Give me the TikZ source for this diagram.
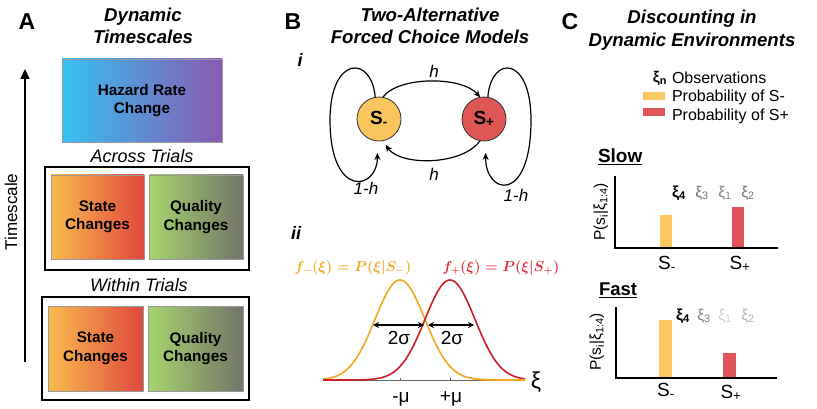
\documentclass[tikz,border=0pt]{standalone}
\usepackage[no-math]{fontspec}
\setmainfont{Liberation Sans}
\usetikzlibrary{arrows.meta}
\definecolor{hzA}{HTML}{35C0F2}
\definecolor{hzB}{HTML}{8B59B2}
\definecolor{stA}{HTML}{F9BC4D}
\definecolor{stB}{HTML}{E0483E}
\definecolor{quA}{HTML}{A6D46E}
\definecolor{quB}{HTML}{737468}
\definecolor{smfill}{HTML}{F9C55F}
\definecolor{spfill}{HTML}{DE5656}
\definecolor{baryel}{HTML}{FBC862}
\definecolor{barred}{HTML}{DE5458}
\definecolor{curveor}{HTML}{F2A71E}
\definecolor{curvered}{HTML}{CF1F26}
\definecolor{txtor}{HTML}{F5A623}
\definecolor{txtred}{HTML}{E0303A}
\newcommand\fminus{{\boldmath$f_{-}(\xi)=P(\xi\vert S_{-})$}}
\newcommand\fplus{{\boldmath$f_{+}(\xi)=P(\xi\vert S_{+})$}}
\begin{document}
\begin{tikzpicture}[x=1pt,y=-1pt,
  every node/.style={inner sep=0pt, outer sep=0pt},
  ttl/.style={font=\fontsize{18.6}{22.5}\selectfont\bfseries\itshape, align=center},
  lett/.style={font=\fontsize{23}{23}\selectfont\bfseries},
  subttl/.style={font=\fontsize{18}{18}\selectfont\itshape},
  gbox/.style={draw=black!40, line width=0.6pt, font=\fontsize{15.3}{18.5}\selectfont\bfseries, align=center},
  obox/.style={draw=black, line width=1.4pt},
  arr/.style={line width=1.2pt, -{Stealth[length=7pt,width=6pt]}},
  state/.style={circle, draw=black!80, line width=0.8pt, minimum size=44pt, font=\fontsize{19}{19}\selectfont\bfseries},
  lbl/.style={font=\fontsize{17}{17}\selectfont\itshape},
  plain/.style={font=\fontsize{17}{17}\selectfont},
  big/.style={font=\fontsize{19}{19}\selectfont},
  legtxt/.style={font=\fontsize{16}{16}\selectfont, anchor=west},
  xil/.style={font=\fontsize{15.5}{15.5}\selectfont},
  axis/.style={line width=1.8pt},
  ylab/.style={rotate=90, font=\fontsize{15.5}{15.5}\selectfont}
]
\useasboundingbox (0,0) rectangle (817,409);

% ---------------- Panel A ----------------
\node[lett] (la) at (27,22) {A};
\node[ttl] (ta) at (143,26) {Dynamic\\Timescales};
\coordinate (tsb) at (25,362);
\coordinate (tst) at (25,69);
\draw[line width=1.6pt, -{Triangle[length=10pt,width=9pt]}] (tsb) -- (tst);
\node[rotate=90, font=\fontsize{17}{17}\selectfont] (tsl) at (11,212) {Timescale};

\node[gbox, left color=hzA, right color=hzB, minimum width=160pt, minimum height=83pt] (hz) at (142,100.5) {Hazard Rate\\Change};

\node[subttl] (across) at (142,156) {Across Trials};
\node[obox, minimum width=204pt, minimum height=103pt] (abox) at (147,218.5) {};
\node[gbox, left color=stA, right color=stB, minimum width=93pt, minimum height=84pt] (ast) at (97.5,217) {State\\Changes};
\node[gbox, left color=quA, right color=quB, minimum width=94pt, minimum height=84pt] (aqu) at (196,217) {Quality\\Changes};

\node[subttl] (within) at (139,285) {Within Trials};
\node[obox, minimum width=207pt, minimum height=103pt] (wbox) at (145.5,348.5) {};
\node[gbox, left color=stA, right color=stB, minimum width=95pt, minimum height=85pt] (wst) at (95.5,348.5) {State\\Changes};
\node[gbox, left color=quA, right color=quB, minimum width=95pt, minimum height=85pt] (wqu) at (195.5,348.5) {Quality\\Changes};

% ---------------- Panel B ----------------
\node[lett] (lb) at (293,22) {B};
\node[ttl] (tb) at (430,26) {Two-Alternative\\Forced Choice Models};
\node[font=\fontsize{18}{18}\selectfont\bfseries\itshape] (li) at (300,60) {i};

\node[state, fill=smfill] (Sm) at (379,119) {S\textsubscript{-}};
\node[state, fill=spfill] (Sp) at (484,119) {S\textsubscript{+}};

\draw[arr] (Sm.80) .. controls (398,76) and (462,76) .. (Sp.100);
\draw[arr, shorten >=5pt] (Sp.-100) .. controls (462,166) and (400,166) .. (Sm.-80);
\node[lbl] (h1) at (434,71) {h};
\node[lbl] (h2) at (434,174) {h};

\draw[arr, shorten >=12pt] (Sm.100) .. controls (372,55) and (330,55) .. (330,120)
   .. controls (330,200) and (378,190) .. (Sm.-95);
\draw[arr, shorten >=12pt] (Sp.80) .. controls (491,55) and (531,55) .. (531,120)
   .. controls (531,205) and (485,195) .. (Sp.-85);
\node[lbl] (l1) at (366,188) {1-h};
\node[lbl] (l2) at (516,195) {1-h};

% ii
\node[font=\fontsize{18}{18}\selectfont\bfseries\itshape] (lii) at (296,233) {ii};
\node[text=txtor, font=\fontsize{14.5}{14.5}\selectfont] (fm) at (353,268) {\fminus};
\node[text=txtred, font=\fontsize{14.5}{14.5}\selectfont] (fp) at (501,268) {\fplus};

\coordinate (ax0) at (323,380);
\coordinate (ax1) at (525,380);
\draw[black!60, line width=1pt] (ax0) -- (ax1);
\draw[black!60, line width=1pt] (400,378) -- (400,381) (450,378) -- (450,381);
\draw[curveor, line width=1.6pt] plot[domain=323:525, samples=120, smooth] (\x, {380-100*exp(-0.5*((\x-400)/25)^2)});
\draw[curvered, line width=1.6pt] plot[domain=323:525, samples=120, smooth] (\x, {380-100*exp(-0.5*((\x-450)/25)^2)});
\draw[curveor, line width=1.6pt] plot[domain=470:525, samples=40, smooth] (\x, {380-100*exp(-0.5*((\x-400)/25)^2)});
\node[font=\fontsize{23}{23}\selectfont] (xi) at (536,382) {ξ};
\node[big] (mm) at (401,399) {-μ};
\node[big] (mp) at (451,399) {+μ};

\coordinate (s1a) at (373,325);
\coordinate (s1b) at (424,325);
\coordinate (s2a) at (428,325);
\coordinate (s2b) at (474,325);
\draw[line width=1.4pt, {Stealth[length=6pt,width=6pt]}-{Stealth[length=6pt,width=6pt]}] (s1a) -- (s1b);
\draw[line width=1.4pt, {Stealth[length=6pt,width=6pt]}-{Stealth[length=6pt,width=6pt]}] (s2a) -- (s2b);
\node[big] (sg1) at (399,338) {2σ};
\node[big] (sg2) at (452,338) {2σ};

% ---------------- Panel C ----------------
\node[lett] (lc) at (570,22) {C};
\node[ttl] (tc) at (692,30) {Discounting in\\Dynamic Environments};

\node[font=\fontsize{15.5}{15.5}\selectfont\bfseries, anchor=east] (legxi) at (667,78) {ξ\textsubscript{n}};
\node[legtxt] (lego) at (672,78) {Observations};
\node[fill=baryel, minimum width=22pt, minimum height=8pt] (legy) at (654,96.5) {};
\node[legtxt] (legyt) at (672,97) {Probability of S-};
\node[fill=barred, minimum width=22pt, minimum height=8pt] (legr) at (654,112.5) {};
\node[legtxt] (legrt) at (672,116) {Probability of S+};

% Slow
\node[font=\fontsize{19}{19}\selectfont\bfseries, anchor=west] (slow) at (598,157) {\underline{Slow}};
\coordinate (so) at (615,248);
\coordinate (sy) at (615,176);
\coordinate (sx) at (778,248);
\fill[baryel] (660,215) rectangle (672,248);
\fill[barred] (732,207) rectangle (744,248);
\draw[axis] (sy) -- (so) -- (sx);
\node[ylab] (sylab) at (601,212) {P(s\textsubscript{i}|ξ\textsubscript{1:4})};
\node[xil, font=\fontsize{16}{16}\selectfont\bfseries] (s4) at (679,193) {ξ\textsubscript{4}};
\node[xil, text=black!55] (s3) at (702,193) {ξ\textsubscript{3}};
\node[xil, text=black!50] (s1) at (725,193) {ξ\textsubscript{1}};
\node[xil, text=black!55] (s2) at (748,193) {ξ\textsubscript{2}};
\node[big] (sm1) at (667,264) {S\textsubscript{-}};
\node[big] (sp1) at (740,264) {S\textsubscript{+}};

% Fast
\node[font=\fontsize{18.5}{18.5}\selectfont\bfseries, anchor=west] (fast) at (599,290) {\underline{Fast}};
\coordinate (fo) at (616,378);
\coordinate (fy) at (616,307);
\coordinate (fx) at (777,378);
\fill[baryel] (659,320) rectangle (672,378);
\fill[barred] (723,353) rectangle (736,378);
\draw[axis] (fy) -- (fo) -- (fx);
\node[ylab] (fylab) at (597,342) {P(s\textsubscript{i}|ξ\textsubscript{1:4})};
\node[xil, font=\fontsize{16}{16}\selectfont\bfseries] (f4) at (683,316) {ξ\textsubscript{4}};
\node[xil, text=black!50] (f3) at (704,316) {ξ\textsubscript{3}};
\node[xil, text=black!20] (f1) at (725,316) {ξ\textsubscript{1}};
\node[xil, text=black!30] (f2) at (748,316) {ξ\textsubscript{2}};
\node[big] (sm2) at (666,391) {S\textsubscript{-}};
\node[big] (sp2) at (731,393) {S\textsubscript{+}};
\end{tikzpicture}
\end{document}
